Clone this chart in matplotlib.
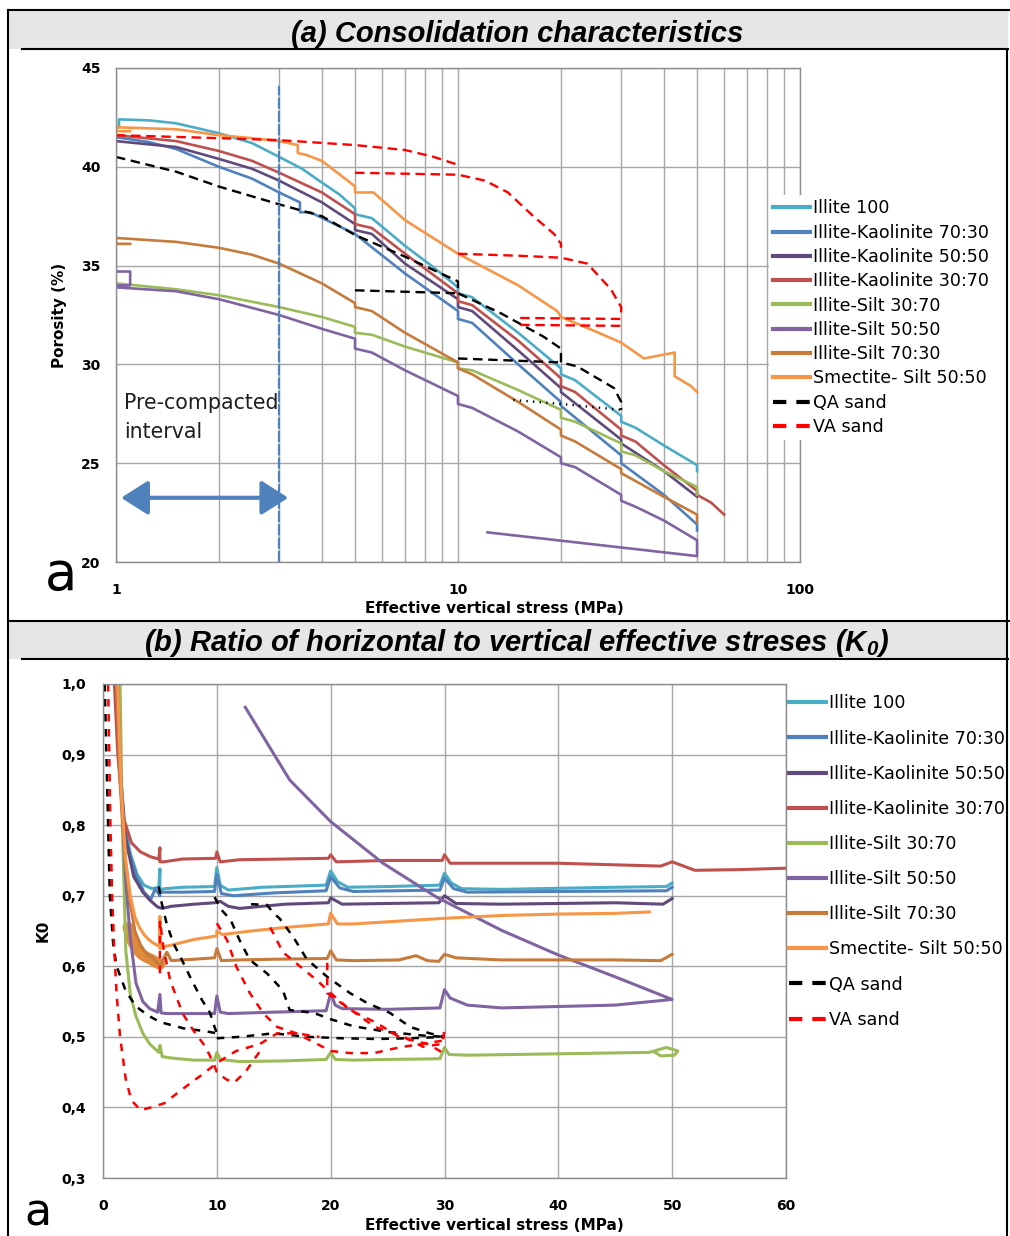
import matplotlib.pyplot as plt
from matplotlib.lines import Line2D
from matplotlib.patches import Rectangle
from matplotlib.ticker import FixedLocator, FuncFormatter, NullFormatter

W, H = 1010, 1236

labels = ["Illite 100", "Illite-Kaolinite 70:30", "Illite-Kaolinite 50:50",
          "Illite-Kaolinite 30:70", "Illite-Silt 30:70", "Illite-Silt 50:50",
          "Illite-Silt 70:30", "Smectite- Silt 50:50", "QA sand", "VA sand"]
colors = ["#4BACC6", "#4F81BD", "#604A7B", "#C0504D", "#9BBB59", "#8064A2",
          "#C77B3A", "#F79646", "black", "#FF0000"]

# ---------------- (a) porosity (%) vs effective vertical stress (MPa)
ill100_s = [1.0, 1.02, 1.02, 1.25, 1.5, 2, 2.5, 3, 3.5, 4, 4.5, 5, 5, 5.6, 7, 8.5, 10, 10, 11, 15, 20, 20, 22,
            30, 30, 33, 40, 50, 50]
ill100_p = [42.0, 42.0, 42.4, 42.35, 42.2, 41.7, 41.2, 40.5, 39.9, 39.2, 38.6, 37.9, 37.6, 37.4, 36.0, 34.9,
            33.9, 33.6, 33.4, 31.6, 29.8, 29.5, 29.2, 27.4, 27.1, 26.8, 25.9, 24.9, 24.6]
ik73_s = [1.0, 1.25, 1.5, 2, 2.5, 3, 3.45, 3.45, 3.7, 5, 7, 10, 10, 11, 15, 20, 20, 30, 30, 40, 50, 50]
ik73_p = [41.5, 41.25, 40.9, 40.0, 39.4, 38.7, 38.2, 37.7, 37.7, 36.6, 34.6, 32.7, 32.3, 32.1, 30.0, 28.1,
          27.9, 25.4, 25.0, 23.4, 21.9, 21.6]
ik55_s = [1.0, 1.5, 2, 2.5, 3, 4, 5, 5, 5.6, 7, 10, 10, 11, 15, 20, 20, 30, 30, 40, 50]
ik55_p = [41.3, 41.0, 40.4, 39.9, 39.3, 38.2, 37.1, 36.8, 36.6, 35.1, 33.3, 32.9, 32.7, 30.7, 28.8, 28.6,
          26.2, 26.0, 24.6, 23.3]
ik37_s = [1.0, 1.0, 1.5, 2, 2.5, 3, 4, 5, 5, 5.6, 7, 10, 10, 11, 15, 20, 20, 22, 30, 30, 33, 40, 50, 50, 55,
          60]
ik37_p = [41.3, 41.6, 41.3, 40.8, 40.3, 39.7, 38.7, 37.6, 37.1, 36.9, 35.6, 33.6, 33.2, 33.0, 31.2, 29.3,
          28.9, 28.6, 26.7, 26.4, 26.1, 24.9, 23.6, 23.4, 23.0, 22.4]
is37_s = [1.0, 1.5, 2, 3, 4, 5, 5, 5.6, 7, 10, 10, 11, 15, 20, 20, 22, 30, 30, 33, 40, 50, 50]
is37_p = [34.1, 33.8, 33.5, 32.9, 32.4, 31.9, 31.6, 31.5, 30.9, 30.1, 29.8, 29.7, 28.7, 27.7, 27.3, 27.1,
          26.0, 25.6, 25.4, 24.6, 23.8, 23.4]
is55_s = [1.0, 1.1, 1.1, 1.0, 1.0, 1.5, 2, 3, 4, 5, 5, 5.6, 7, 10, 10, 11, 15, 20, 20, 22, 30, 30, 33, 40,
          50, 50, 12.2]
is55_p = [34.7, 34.7, 34.0, 34.0, 33.9, 33.7, 33.3, 32.5, 31.8, 31.3, 30.8, 30.6, 29.7, 28.4, 28.0, 27.8,
          26.6, 25.3, 25.0, 24.8, 23.4, 23.1, 22.8, 22.1, 21.1, 20.3, 21.5]
is73_s = [1.1, 1.0, 1.0, 1.5, 2, 2.5, 3, 4, 5, 5, 5.6, 7, 10, 10, 11, 15, 20, 20, 22, 30, 30, 33, 40, 50, 50]
is73_p = [36.1, 36.1, 36.4, 36.2, 35.9, 35.55, 35.1, 34.1, 33.1, 32.9, 32.7, 31.6, 30.1, 29.8, 29.5, 28.1,
          26.7, 26.4, 26.1, 24.7, 24.5, 24.1, 23.3, 22.4, 22.0]
sm55_s = [1.1, 1.0, 1.0, 1.5, 2, 2.5, 3, 3.4, 3.4, 3.6, 4, 4.84, 5, 5, 5.66, 7, 10, 15, 19.5, 20, 25, 30, 35,
          43, 43, 48, 50]
sm55_p = [41.8, 41.8, 42.0, 41.9, 41.6, 41.45, 41.3, 41.1, 40.7, 40.6, 40.3, 39.2, 39.0, 38.7, 38.7, 37.3,
          35.6, 34.0, 32.7, 32.4, 31.7, 31.1, 30.3, 30.6, 29.4, 28.9, 28.6]
qa_a_segs = [
    ([1, 1.5, 2, 3, 4, 5, 7, 10, 10, 13.3, 17.8, 20, 20, 22.3, 28.6, 30, 30],
     [40.5, 39.75, 39.0, 38.1, 37.5, 36.55, 35.45, 34.2, 33.6, 32.6, 31.4, 30.8, 30.1, 29.9, 28.8, 28.1, 27.7]),
    ([5, 10], [33.75, 33.6]),
    ([10, 20], [30.3, 30.1]),
]
qa_a_dots = ([14.5, 20, 30], [28.2, 28.0, 27.7])
va_a_segs = [
    ([1, 2, 3, 5, 7, 8.5, 10], [41.6, 41.45, 41.35, 41.1, 40.85, 40.5, 40.1]),
    ([5, 10, 12, 14, 16.6, 19.1, 20, 20], [39.7, 39.6, 39.3, 38.7, 37.5, 36.6, 36.1, 35.9]),
    ([10, 15, 20, 23.9, 28, 30, 30], [35.6, 35.5, 35.4, 35.1, 33.8, 32.9, 32.4]),
    ([15.2, 30], [32.35, 32.3]),
    ([15.2, 30], [32.0, 31.95]),
]

# ---------------- (b) K0 vs effective vertical stress (MPa)
ill100_bs = [1.1, 1.4, 1.8, 2.4, 3.0, 3.6, 4.3, 4.9, 5.0, 5.0, 5.4, 7, 9.8, 10.0, 10.3, 11, 14, 19.6, 20,
             20.6, 21.5, 25, 29.6, 30, 30.6, 31.5, 35, 45, 49.5, 50]
ill100_k = [1.0, 0.90, 0.81, 0.76, 0.73, 0.715, 0.71, 0.712, 0.738, 0.708, 0.71, 0.712, 0.713, 0.74, 0.715,
            0.708, 0.712, 0.715, 0.735, 0.72, 0.712, 0.713, 0.715, 0.732, 0.718, 0.71, 0.709, 0.712, 0.713,
            0.718]
ik73_bs = [1.1, 1.4, 1.8, 2.4, 3.0, 3.6, 4.2, 4.6, 5.0, 5.0, 5.5, 7, 9.8, 10.0, 10.4, 11.5, 15, 19.6, 20,
           20.8, 22, 29.6, 30, 30.8, 32, 40, 49.5, 50]
ik73_k = [1.0, 0.89, 0.80, 0.755, 0.725, 0.705, 0.695, 0.71, 0.70, 0.705, 0.705, 0.705, 0.706, 0.73, 0.703,
          0.700, 0.704, 0.707, 0.727, 0.711, 0.706, 0.708, 0.725, 0.71, 0.705, 0.706, 0.707, 0.712]
ik55_bs = [1.2, 1.5, 2.0, 2.7, 3.5, 4.1, 4.8, 5.2, 6, 8, 9.8, 10.3, 11, 12, 16, 19.8, 20, 21, 25, 29.5, 30,
           31, 35, 45, 49.2, 50]
ik55_k = [1.0, 0.88, 0.78, 0.727, 0.705, 0.694, 0.684, 0.682, 0.685, 0.688, 0.69, 0.692, 0.685, 0.682,
          0.688, 0.69, 0.697, 0.688, 0.689, 0.69, 0.70, 0.689, 0.688, 0.69, 0.688, 0.696]
ik37_bs = [1.0, 1.3, 1.8, 2.5, 3.3, 4.2, 4.9, 5.0, 5.0, 5.3, 7, 9.9, 10.0, 10.3, 12, 19.8, 20, 20.5, 25,
           29.8, 30, 30.5, 40, 49, 50, 52, 56, 60]
ik37_k = [1.0, 0.90, 0.81, 0.775, 0.762, 0.755, 0.752, 0.768, 0.748, 0.748, 0.752, 0.753, 0.762, 0.748,
          0.751, 0.753, 0.758, 0.748, 0.750, 0.750, 0.758, 0.746, 0.746, 0.742, 0.748, 0.736, 0.737, 0.739]
is37_bs = [1.5, 1.7, 2.0, 2.4, 2.9, 3.5, 4.1, 4.9, 5.0, 5.2, 6, 8, 9.8, 10.0, 10.3, 12, 16, 19.6, 20, 20.4,
           22, 25, 29.6, 30, 30.4, 32, 40, 48, 49.5, 50.5, 50.2, 49, 48.5]
is37_k = [1.0, 0.80, 0.623, 0.56, 0.529, 0.505, 0.49, 0.478, 0.488, 0.472, 0.47, 0.467, 0.467, 0.478,
          0.468, 0.465, 0.466, 0.468, 0.478, 0.468, 0.467, 0.468, 0.469, 0.485, 0.475, 0.474, 0.476, 0.478,
          0.485, 0.48, 0.474, 0.473, 0.478]
is55_bs = [1.3, 1.6, 2.0, 2.4, 2.9, 3.5, 4.1, 4.8, 5.0, 5.1, 5.6, 7, 9.8, 10.0, 10.3, 11, 15, 19.6, 20, 20.4,
           21, 25, 29.6, 30, 30.5, 32, 35, 45, 50, 45, 40, 35, 29.3, 24.6, 20, 16.4, 12.5]
is55_k = [1.0, 0.85, 0.72, 0.64, 0.576, 0.55, 0.54, 0.535, 0.56, 0.534, 0.533, 0.533, 0.533, 0.558, 0.535,
          0.533, 0.535, 0.537, 0.562, 0.545, 0.54, 0.539, 0.541, 0.567, 0.555, 0.545, 0.541, 0.545, 0.553,
          0.585, 0.616, 0.651, 0.698, 0.746, 0.805, 0.864, 0.967]
is73_bs = [1.2, 1.5, 1.9, 2.3, 2.8, 3.3, 3.8, 4.4, 5.0, 5.3, 5.6, 6, 8, 9.8, 10.0, 10.4, 12, 15, 19.7, 20,
           20.5, 22, 26, 27.5, 28.5, 29.5, 30, 31, 35, 45, 49, 50]
is73_k = [1.0, 0.86, 0.76, 0.70, 0.65, 0.63, 0.618, 0.612, 0.60, 0.61, 0.62, 0.608, 0.61, 0.612, 0.625,
          0.608, 0.609, 0.61, 0.611, 0.622, 0.609, 0.608, 0.609, 0.615, 0.608, 0.607, 0.617, 0.612, 0.609,
          0.609, 0.608, 0.617]
sm55_bs = [1.3, 1.6, 2.0, 2.4, 2.8, 3.2, 3.6, 4.0, 4.5, 5.0, 5.0, 5.0, 5.4, 6, 8, 10.0, 10.0, 10.5, 13, 16,
           19.8, 20, 20.6, 22, 26, 30, 35, 40, 45, 48]
sm55_k = [1.0, 0.85, 0.75, 0.70, 0.67, 0.655, 0.645, 0.638, 0.632, 0.628, 0.67, 0.625, 0.628, 0.63, 0.638,
          0.643, 0.65, 0.645, 0.65, 0.655, 0.66, 0.675, 0.66, 0.66, 0.664, 0.668, 0.672, 0.674, 0.675, 0.677]
blob_bs = [2.2, 2.6, 3.0, 3.4, 3.8, 4.2, 4.6, 5.0]
blob_k = [0.655, 0.635, 0.624, 0.617, 0.613, 0.61, 0.606, 0.603]
qa_b_segs = [
    ([0.15, 0.3, 0.45, 0.6, 0.9, 1.2, 2.0, 2.9, 4.0, 5.0, 7.1, 9.0, 10.0],
     [1.0, 0.9, 0.8, 0.7, 0.63, 0.60, 0.565, 0.543, 0.53, 0.521, 0.512, 0.508, 0.505]),
    ([10, 12, 15, 18, 21, 24, 27, 30], [0.498, 0.5, 0.505, 0.5, 0.498, 0.497, 0.498, 0.5]),
    ([4.9, 5.15, 5.6, 6.2, 6.9, 7.8, 8.7, 9.4, 9.8, 10.0],
     [0.713, 0.69, 0.66, 0.632, 0.61, 0.58, 0.552, 0.534, 0.514, 0.505]),
    ([9.8, 10.4, 11.2, 12, 12.9, 14.4, 15.8, 16.4, 18.5, 20, 22, 25, 28, 30],
     [0.698, 0.68, 0.666, 0.637, 0.609, 0.59, 0.566, 0.538, 0.534, 0.525, 0.515, 0.507, 0.502, 0.5]),
    ([13, 14.4, 15.0, 15.5, 16.7, 17.9, 19.7, 21.7, 23.2, 25.2, 27, 28.7, 30],
     [0.688, 0.687, 0.675, 0.668, 0.642, 0.61, 0.585, 0.562, 0.548, 0.534, 0.514, 0.505, 0.50]),
]
va_b_segs = [
    ([0.45, 0.55, 0.65, 0.8, 1.0, 1.2, 1.5, 2.0, 2.5, 3.3, 4.2, 5.4, 6.5, 7.9, 9.0, 10.0, 11.0, 11.7, 13.8,
      15.3, 17, 19],
     [1.0, 0.9, 0.8, 0.7, 0.62, 0.56, 0.5, 0.44, 0.41, 0.396, 0.40, 0.406, 0.42, 0.437, 0.45, 0.463, 0.473,
      0.48, 0.49, 0.505, 0.505, 0.5]),
    ([5.0, 5.0, 5.3, 5.9, 7.0, 7.9, 9.0, 9.7, 10.0, 10.8, 11.5, 12.5, 13.8],
     [0.59, 0.665, 0.627, 0.58, 0.533, 0.51, 0.486, 0.463, 0.45, 0.44, 0.435, 0.45, 0.48]),
    ([10.0, 10.9, 11.7, 12.9, 14.1, 15.3, 17, 18.8, 20, 21.7, 23.8, 26, 28, 30],
     [0.661, 0.637, 0.6, 0.562, 0.533, 0.514, 0.505, 0.49, 0.48, 0.477, 0.477, 0.485, 0.49, 0.495]),
    ([14.7, 15.8, 17.3, 18.8, 20, 21.7, 24, 26, 28.5, 29.6, 30],
     [0.655, 0.62, 0.6, 0.58, 0.562, 0.538, 0.52, 0.5, 0.49, 0.48, 0.47]),
    ([19.7, 19.7, 21.8, 23.9, 26.4, 28.1, 29.8, 30],
     [0.605, 0.562, 0.538, 0.514, 0.5, 0.486, 0.49, 0.51]),
]

a_series = [(ill100_s, ill100_p), (ik73_s, ik73_p), (ik55_s, ik55_p), (ik37_s, ik37_p),
            (is37_s, is37_p), (is55_s, is55_p), (is73_s, is73_p), (sm55_s, sm55_p)]
b_series = [(ill100_bs, ill100_k), (ik73_bs, ik73_k), (ik55_bs, ik55_k), (ik37_bs, ik37_k),
            (is37_bs, is37_k), (is55_bs, is55_k), (is73_bs, is73_k), (sm55_bs, sm55_k)]

plt.rcParams['font.family'] = ['DejaVu Sans']
plt.rcParams['mathtext.fontset'] = 'custom'
plt.rcParams['mathtext.rm'] = 'Liberation Sans:bold:italic'
plt.rcParams['mathtext.it'] = 'Liberation Sans:bold:italic'

fig = plt.figure(figsize=(W / 100, H / 100), dpi=100)


def box(left, top, right, bottom):
    return [left / W, 1 - bottom / H, (right - left) / W, (bottom - top) / H]


def hline(y, x0, x1, lw=1.5):
    fig.add_artist(Line2D([x0 / W, x1 / W], [1 - y / H, 1 - y / H], transform=fig.transFigure,
                          color="black", lw=lw))


def vline(x, y0, y1, lw=1.5):
    fig.add_artist(Line2D([x / W, x / W], [1 - y0 / H, 1 - y1 / H], transform=fig.transFigure,
                          color="black", lw=lw))


# table frame and grey header bands
for top, bot in [(10, 49), (621, 659)]:
    fig.add_artist(Rectangle((8 / W, 1 - bot / H), (1008 - 8) / W, (bot - top) / H,
                             transform=fig.transFigure, facecolor="#E6E6E6", edgecolor="none"))
    hline(top, 8, 1010)
    hline(bot, 22, 1008)
vline(8, 10, 1236)
vline(1007, 49, 1236)

title_font = dict(family=['Liberation Sans'], weight='bold', style='italic', size=21)
fig.text(517 / W, 1 - 34 / H, "(a) Consolidation characteristics", ha='center', va='center', **title_font)
fig.text(517 / W, 1 - 643 / H, r"(b) Ratio of horizontal to vertical effective streses (K$_0$)",
         ha='center', va='center', **title_font)

grid_c = "#A6A6A6"


def style_axes(ax):
    ax.grid(True, which='both', color=grid_c, lw=1)
    ax.set_axisbelow(True)
    for sp in ax.spines.values():
        sp.set_color("#8C8C8C")
        sp.set_linewidth(1)
    ax.tick_params(which='both', length=0)
    for lab in ax.get_xticklabels() + ax.get_yticklabels():
        lab.set_fontweight('bold')
        lab.set_fontsize(10)


# ---------------- panel (a)
ax1 = fig.add_axes(box(116, 68, 800, 562))
ax1.set_xscale('log')
ax1.set_xlim(1, 100)
ax1.set_ylim(20, 45)
for (s, p), c in zip(a_series, colors):
    ax1.plot(s, p, color=c, lw=1.9, solid_joinstyle='round')
for s, p in qa_a_segs:
    ax1.plot(s, p, color='black', lw=1.7, ls=(0, (4, 2.4)))
ax1.plot(qa_a_dots[0], qa_a_dots[1], color='black', lw=1.7, ls=(0, (0.6, 2.2)))
for s, p in va_a_segs:
    ax1.plot(s, p, color='#FF0000', lw=1.7, ls=(0, (4, 2.4)))
ax1.plot([3, 3], [20, 44.1], color="#4F81BD", lw=1.6, ls=(0, (5, 1)))
ax1.annotate("", xy=(3.19, 23.25), xytext=(1.035, 23.25),
             arrowprops=dict(arrowstyle='<|-|>,head_length=0.55,head_width=0.35', color="#4F81BD",
                             lw=3, mutation_scale=30, shrinkA=0, shrinkB=0))
ax1.text(1.055, 28.05, "Pre-compacted", fontsize=14.8, color="#1F1F1F", va='center', ha='left')
ax1.text(1.055, 26.6, "interval", fontsize=14.8, color="#1F1F1F", va='center', ha='left')
ax1.xaxis.set_major_locator(FixedLocator([1, 10, 100]))
ax1.xaxis.set_major_formatter(FuncFormatter(lambda v, pos: "%d" % v))
ax1.xaxis.set_minor_locator(FixedLocator([2, 3, 4, 5, 6, 7, 8, 9, 20, 30, 40, 50, 60, 70, 80, 90]))
ax1.xaxis.set_minor_formatter(NullFormatter())
ax1.set_yticks([20, 25, 30, 35, 40, 45])
ax1.tick_params(axis='x', pad=15)
ax1.tick_params(axis='y', pad=11)
style_axes(ax1)
ax1.set_xlabel("Effective vertical stress (MPa)", fontsize=11, weight='bold')
ax1.xaxis.set_label_coords((494 - 116) / 684, -(601 - 562) / 494)
ax1.set_ylabel("Porosity (%)", fontsize=11, weight='bold', labelpad=10)

# ---------------- panel (b)
ax2 = fig.add_axes(box(103, 684, 786, 1178))
ax2.set_xlim(0, 60)
ax2.set_ylim(0.3, 1.0)
ax2.plot(blob_bs, blob_k, color="#E08A3C", lw=8, solid_capstyle='round')
for (s, k), c in zip(b_series, colors):
    ax2.plot(s, k, color=c, lw=2.2, solid_joinstyle='round')
for s, k in qa_b_segs:
    ax2.plot(s, k, color='black', lw=1.8, ls=(0, (3, 3)))
for s, k in va_b_segs:
    ax2.plot(s, k, color='#FF0000', lw=1.8, ls=(0, (3, 3)))
ax2.set_xticks([0, 10, 20, 30, 40, 50, 60])
ax2.set_yticks([0.3, 0.4, 0.5, 0.6, 0.7, 0.8, 0.9, 1.0])
ax2.yaxis.set_major_formatter(FuncFormatter(lambda v, pos: ("%.1f" % v).replace('.', ',')))
ax2.tick_params(axis='x', pad=15)
ax2.tick_params(axis='y', pad=12)
style_axes(ax2)
ax2.set_xlabel("Effective vertical stress (MPa)", fontsize=11, weight='bold')
ax2.xaxis.set_label_coords((494 - 103) / 683, -(1218 - 1178) / 494)
ax2.set_ylabel("K0", fontsize=11, weight='bold', labelpad=8)

# ---------------- legends
handles = []
for lab, c in zip(labels, colors):
    if lab.endswith("sand"):
        handles.append(Line2D([], [], color=c, lw=3, ls=(0, (3.2, 2.4)), label=lab))
    else:
        handles.append(Line2D([], [], color=c, lw=3, label=lab))

leg_font = dict(size=12.6)
fig.legend(handles=handles, loc='upper left', bbox_to_anchor=(769 / W, 1 - 195 / H),
           bbox_transform=fig.transFigure, prop=leg_font, frameon=True, facecolor='white',
           edgecolor='none', framealpha=1, fancybox=False, handlelength=2.1, handletextpad=0.17,
           labelspacing=0.36, borderpad=0.25, borderaxespad=0)
fig.legend(handles=handles, loc='upper left', bbox_to_anchor=(785 / W, 1 - 690 / H),
           bbox_transform=fig.transFigure, prop=leg_font, frameon=False, handlelength=2.1,
           handletextpad=0.17, labelspacing=0.98, borderpad=0.25, borderaxespad=0)

# panel letters
fig.text(45 / W, 1 - 590 / H, "a", fontsize=38, va='baseline', ha='left')
fig.text(24 / W, 1 - 1234 / H, "a", fontsize=32, va='bottom', ha='left')

fig.savefig("out.png", dpi=100)
